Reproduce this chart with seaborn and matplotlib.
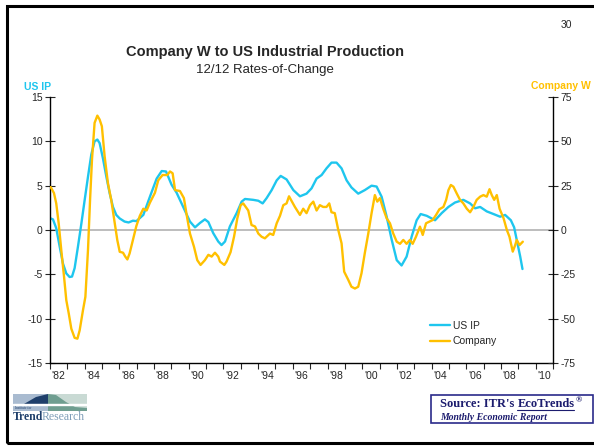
import matplotlib
matplotlib.use("Agg")
import matplotlib.pyplot as plt
import matplotlib.patches as mpatches
import seaborn as sns

# US Industrial Production, 12/12 rate-of-change (left axis)
usip_year = [1982.04, 1982.17, 1982.36, 1982.56, 1982.75, 1982.94, 1983.13, 1983.27, 1983.42, 1983.61,
             1983.81, 1984.00, 1984.19, 1984.38, 1984.57, 1984.73, 1984.86, 1985.05, 1985.25, 1985.44,
             1985.63, 1985.82, 1986.02, 1986.30, 1986.53, 1986.78, 1986.98, 1987.38, 1987.76, 1988.15,
             1988.44, 1988.69, 1989.01, 1989.30, 1989.68, 1990.07, 1990.36, 1990.65, 1990.93, 1991.13,
             1991.41, 1991.70, 1991.89, 1992.09, 1992.37, 1992.76, 1993.05, 1993.24, 1993.72, 1994.01,
             1994.26, 1994.49, 1994.78, 1995.07, 1995.30, 1995.64, 1996.03, 1996.41, 1996.79, 1997.08,
             1997.37, 1997.66, 1997.94, 1998.23, 1998.52, 1998.81, 1999.10, 1999.38, 1999.77, 2000.15,
             2000.54, 2000.83, 2001.12, 2001.41, 2001.70, 2001.99, 2002.27, 2002.56, 2002.85, 2003.14,
             2003.37, 2003.72, 2004.20, 2004.58, 2004.97, 2005.35, 2005.83, 2006.22, 2006.51, 2006.80,
             2007.18, 2007.57, 2007.95, 2008.24, 2008.57, 2008.76, 2008.95, 2009.11, 2009.24]
usip_val = [1.3, 1.2, 0.2, -1.9, -3.8, -4.9, -5.3, -5.25, -4.3, -1.9,
            0.75, 3.4, 6.0, 8.5, 10.0, 10.2, 9.8, 8.1, 6.0, 4.15,
            2.6, 1.7, 1.3, 0.95, 0.85, 1.05, 1.0, 1.7, 3.75, 5.8,
            6.65, 6.6, 5.1, 4.2, 2.6, 0.95, 0.3, 0.8, 1.2, 0.9,
            -0.35, -1.3, -1.7, -1.3, 0.4, 1.9, 3.2, 3.5, 3.4, 3.3,
            3.0, 3.6, 4.5, 5.6, 6.1, 5.7, 4.5, 3.8, 4.1, 4.7,
            5.8, 6.2, 6.95, 7.6, 7.6, 6.95, 5.6, 4.8, 4.1, 4.5,
            5.0, 4.9, 3.75, 1.5, -1.1, -3.4, -4.0, -3.0, -0.75, 1.1,
            1.8, 1.6, 1.1, 1.9, 2.6, 3.1, 3.4, 3.0, 2.45, 2.6,
            2.1, 1.8, 1.5, 1.7, 1.1, 0.3, -1.5, -3.0, -4.4]

# Company W, 12/12 rate-of-change (right axis)
company_year = [1982.04, 1982.23, 1982.36, 1982.50, 1982.65, 1982.81, 1982.94, 1983.08, 1983.23, 1983.42,
                1983.58, 1983.71, 1983.90, 1984.04, 1984.19, 1984.31, 1984.42, 1984.57, 1984.73, 1984.86,
                1984.99, 1985.15, 1985.34, 1985.53, 1985.73, 1985.88, 1986.02, 1986.21, 1986.34, 1986.46,
                1986.59, 1986.78, 1986.98, 1987.18, 1987.38, 1987.57, 1987.76, 1988.05, 1988.24, 1988.49,
                1988.76, 1988.92, 1989.07, 1989.21, 1989.49, 1989.72, 1989.88, 1990.07, 1990.30, 1990.49,
                1990.68, 1990.93, 1991.13, 1991.32, 1991.51, 1991.70, 1991.80, 1992.05, 1992.18, 1992.41,
                1992.61, 1992.80, 1992.99, 1993.14, 1993.43, 1993.62, 1993.82, 1994.01, 1994.20, 1994.39,
                1994.68, 1994.87, 1995.07, 1995.26, 1995.45, 1995.64, 1995.78, 1996.12, 1996.41, 1996.60,
                1996.79, 1996.99, 1997.18, 1997.37, 1997.56, 1997.75, 1997.94, 1998.10, 1998.23, 1998.42,
                1998.62, 1998.81, 1998.96, 1999.19, 1999.38, 1999.58, 1999.77, 1999.96, 2000.15, 2000.35,
                2000.54, 2000.73, 2000.87, 2001.02, 2001.21, 2001.41, 2001.60, 2001.79, 2001.99, 2002.18,
                2002.37, 2002.56, 2002.75, 2002.91, 2003.10, 2003.33, 2003.49, 2003.68, 2003.87, 2004.06,
                2004.26, 2004.45, 2004.68, 2004.84, 2004.97, 2005.11, 2005.26, 2005.45, 2005.64, 2005.83,
                2006.03, 2006.22, 2006.41, 2006.60, 2006.80, 2006.99, 2007.18, 2007.34, 2007.47, 2007.61,
                2007.76, 2007.92, 2008.15, 2008.34, 2008.49, 2008.68, 2008.82, 2008.91, 2009.07, 2009.26]
company_val = [24.2, 20.8, 15.0, 3.8, -11.3, -26.4, -39.6, -47.0, -55.7, -60.8,
               -61.3, -56.6, -45.3, -37.7, -11.3, 17.0, 39.6, 60.4, 64.5, 62.3,
               58.5, 41.5, 26.4, 17.0, 3.8, -5.7, -12.3, -12.8, -15.0, -16.6,
               -13.2, -5.7, 2.3, 8.0, 12.0, 11.0, 15.4, 21.0, 28.0, 31.0,
               31.0, 33.0, 32.0, 22.5, 22.0, 18.0, 8.5, -2.0, -9.4, -17.0,
               -19.7, -17.0, -14.0, -15.0, -12.8, -15.0, -17.8, -19.7, -17.8, -12.5,
               -3.8, 6.6, 14.0, 15.0, 11.0, 2.8, 2.0, -2.0, -3.8, -4.7,
               -2.0, -2.8, 3.8, 8.0, 14.0, 15.0, 19.0, 13.0, 8.5, 12.0,
               9.5, 14.0, 16.0, 11.0, 14.0, 13.0, 13.0, 15.0, 10.0, 9.5,
               0.0, -7.5, -23.5, -28.0, -32.0, -33.0, -32.0, -24.4, -13.0, -2.0,
               9.5, 19.7, 16.0, 18.0, 12.0, 6.6, 3.8, -2.0, -6.6, -7.8,
               -5.6, -7.8, -5.6, -7.8, -3.8, 1.9, -2.8, 3.8, 4.7, 5.6,
               8.5, 11.7, 13.0, 17.0, 22.5, 25.4, 24.4, 20.6, 17.0, 15.0,
               12.0, 10.0, 13.0, 17.0, 18.8, 19.7, 18.8, 23.0, 19.7, 17.0,
               19.7, 12.0, 6.6, 0.0, -3.8, -12.2, -8.5, -5.6, -8.5, -6.6]

left_ticks = [-15, -10, -5, 0, 5, 10, 15]
right_ticks = [-75, -50, -25, 0, 25, 50, 75]
year_labels = ["'82", "'84", "'86", "'88", "'90", "'92", "'94", "'96", "'98",
               "'00", "'02", "'04", "'06", "'08", "'10"]

CYAN = '#1EC6EE'
GOLD = '#FFC000'
NAVY = '#1C1C6E'

sns.set_style("white")
plt.rcParams['font.family'] = ['Liberation Sans', 'DejaVu Sans']
plt.rcParams['axes.unicode_minus'] = False

W, H = 594, 447
def fx(x):
    return x / W
def fy(y):
    return 1 - y / H

fig = plt.figure(figsize=(W / 100, H / 100), dpi=100)
ax = fig.add_axes([fx(50), fy(363), 503 / W, 266 / H])
ax2 = ax.twinx()

ax.axhline(0, color='#B8B8B8', lw=1.3, zorder=0)
sns.lineplot(x=usip_year, y=usip_val, ax=ax, color=CYAN, lw=1.7, label='US IP', legend=False)
sns.lineplot(x=company_year, y=company_val, ax=ax2, color=GOLD, lw=1.7, label='Company', legend=False)

ax.set_xlim(1982, 2011)
ax.set_ylim(-15, 15)
ax2.set_ylim(-75, 75)
ax.set_yticks(left_ticks)
ax2.set_yticks(right_ticks)
ax.set_xticks(range(1982, 2012))
ax.set_xticklabels([])
ax.set_xticks([1982.5 + 2 * i for i in range(len(year_labels))], labels=year_labels, minor=True)
ax.set_xlabel('')
ax.set_ylabel('')
ax2.set_ylabel('')

for a in (ax, ax2):
    a.spines['top'].set_visible(False)
    for s in a.spines.values():
        s.set_color('black')
        s.set_linewidth(1.0)
ax.spines['right'].set_visible(False)
ax2.spines['left'].set_visible(False)
ax2.spines['bottom'].set_visible(False)

ax.tick_params(axis='x', which='major', direction='out', length=4, width=0.8, bottom=True)
ax.tick_params(axis='x', which='minor', length=0, labelsize=7.5, pad=6)
ax.tick_params(axis='y', direction='inout', length=7, width=0.8, labelsize=7.5, pad=2, left=True)
ax2.tick_params(axis='y', direction='inout', length=7, width=0.8, labelsize=7.5, pad=2, right=True)

h1, l1 = ax.get_legend_handles_labels()
h2, l2 = ax2.get_legend_handles_labels()
ax2.legend(h1 + h2, l1 + l2, loc='upper left', bbox_to_anchor=(fx(430), fy(321)),
           bbox_transform=fig.transFigure, frameon=False, fontsize=7.5,
           handlelength=1.9, handletextpad=0.3, labelspacing=0.5, borderpad=0, borderaxespad=0)

# titles and axis captions
fig.text(fx(265), fy(52), 'Company W to US Industrial Production', ha='center', va='center',
         fontsize=10.5, fontweight='bold')
fig.text(fx(265), fy(70), '12/12 Rates-of-Change', ha='center', va='center', fontsize=9.5)
fig.text(fx(566), fy(25), '30', ha='center', va='center', fontsize=7.5)
fig.text(fx(38), fy(87), 'US IP', ha='center', va='center', fontsize=7.5,
         fontweight='bold', color=CYAN)
fig.text(fx(561), fy(86), 'Company W', ha='center', va='center', fontsize=7.5,
         fontweight='bold', color=GOLD)

# page frame
fig.patches.append(mpatches.Rectangle((fx(7), fy(443)), fx(600) - fx(7), fy(6) - fy(443),
                                      transform=fig.transFigure, fill=False, lw=2.2,
                                      edgecolor='black'))

# logo
def poly(pts, color):
    fig.patches.append(mpatches.Polygon([(fx(x), fy(y)) for x, y in pts], closed=True,
                                        transform=fig.transFigure, facecolor=color,
                                        edgecolor='none'))
poly([(13, 394), (48, 394), (48, 411), (13, 411)], '#A9BBD0')
poly([(24, 404), (36, 397), (48, 394), (48, 404)], '#1F3F6B')
poly([(48, 394), (87, 394), (87, 411), (48, 411)], '#C9DAD4')
poly([(48, 394), (56, 395), (66, 402), (75, 407), (87, 408), (87, 411), (48, 411)], '#6F9E90')
fig.patches.append(mpatches.Rectangle((fx(13), fy(404.5)), fx(74), 1 / H,
                                      transform=fig.transFigure, color='white'))
fig.text(fx(15), fy(408), 'Institute for', fontsize=2.5, color='#1F3F6B', va='center',
         family='Liberation Serif')
t1 = fig.text(fx(13), fy(417), 'Trend', fontsize=8.5, fontweight='bold', color='#1F3F6B',
              va='center', family='Liberation Serif')
fig.canvas.draw()
r = fig.canvas.get_renderer()
bb = t1.get_window_extent(r)
fig.text((bb.x1 - 1.5) / W, fy(417), 'Research', fontsize=8.5, color='#7E9DB8', va='center',
         family='Liberation Serif')

# source box
fig.patches.append(mpatches.Rectangle((fx(431), fy(423)), fx(593) - fx(431), fy(395) - fy(423),
                                      transform=fig.transFigure, fill=False, lw=1.2,
                                      edgecolor='#2A2A8A'))
s1 = fig.text(fx(440), fy(404), "Source: ITR's ", fontsize=9, fontweight='bold', color=NAVY,
              va='center', family='Liberation Serif')
fig.canvas.draw()
bb = s1.get_window_extent(r)
s2 = fig.text(bb.x1 / W, fy(404), 'EcoTrends', fontsize=9, fontweight='bold', color=NAVY,
              va='center', family='Liberation Serif')
fig.canvas.draw()
bb2 = s2.get_window_extent(r)
fig.add_artist(plt.Line2D([bb2.x0 / W, bb2.x1 / W], [fy(410), fy(410)], color=NAVY, lw=0.8,
                          transform=fig.transFigure))
fig.text(bb2.x1 / W + 1.5 / W, fy(400), '®', fontsize=6, fontweight='bold', color=NAVY,
         va='center', family='Liberation Serif')
fig.text(fx(440), fy(417), 'Monthly Economic Report', fontsize=7, fontweight='bold',
         style='italic', color=NAVY, va='center', family='Liberation Serif')

fig.savefig('out.png', dpi=100)
